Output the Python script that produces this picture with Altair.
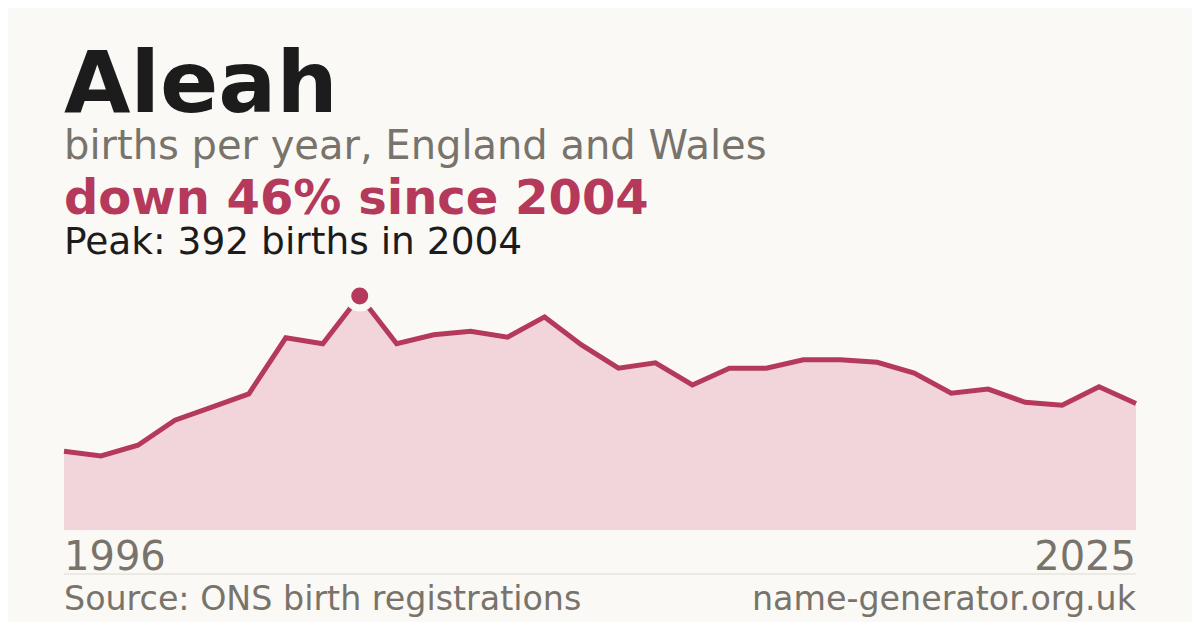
import altair as alt
import pandas as pd

# ---- data ----
years = list(range(1996, 2026))
births = [132, 124, 142, 184, 206, 228, 322, 312, 392, 312,
          327, 333, 323, 357, 310, 271, 280, 243, 271, 271,
          285, 285, 281, 263, 229, 236, 214, 209, 240, 212]
peak_year = [2004]
peak_births = [392]

name_text = ["Aleah"]
subtitle_text = ["births per year, England and Wales"]
change_text = ["down 46% since 2004"]
peak_text = ["Peak: 392 births in 2004"]
source_text = ["Source: ONS birth registrations"]
site_text = ["name-generator.org.uk"]

BG = "#faf9f5"
RED = "#b5395a"
FILL = "#f2d5da"
GRAY = "#78736b"
DARK = "#1c1c1c"
FONT = "DejaVu Sans"

W, H = 1072, 234

df = pd.DataFrame({"year": years, "births": births})
peak_df = pd.DataFrame({"year": peak_year, "births": peak_births})

xs = alt.Scale(domain=[years[0], years[-1]], nice=False, zero=False)
ys = alt.Scale(domain=[0, max(births)], nice=False, zero=True)

base = alt.Chart(df).encode(
    x=alt.X("year:Q", scale=xs, axis=None),
    y=alt.Y("births:Q", scale=ys, axis=None),
)

area = base.mark_area(color=FILL, opacity=1)
line = base.mark_line(color=RED, strokeWidth=5, strokeJoin="miter")
peak = alt.Chart(peak_df).mark_point(
    shape="circle", filled=True, fill=RED, stroke=BG, strokeWidth=7, size=576, opacity=1
).encode(
    x=alt.X("year:Q", scale=xs, axis=None),
    y=alt.Y("births:Q", scale=ys, axis=None),
)


def text_layer(values, y, size, color, weight="normal", align="left", x=0):
    return alt.Chart(pd.DataFrame({"t": values})).mark_text(
        font=FONT, fontSize=size, fontWeight=weight, color=color,
        align=align, baseline="alphabetic",
    ).encode(x=alt.value(x), y=alt.value(y), text="t:N")


first_df = pd.DataFrame({"year": [years[0]]})
last_df = pd.DataFrame({"year": [years[-1]]})
year_first = alt.Chart(first_df).mark_text(
    font=FONT, fontSize=40, color=GRAY, align="left", baseline="alphabetic"
).encode(x=alt.X("year:Q", scale=xs, axis=None), y=alt.value(274), text="year:N")
year_last = alt.Chart(last_df).mark_text(
    font=FONT, fontSize=40, color=GRAY, align="right", baseline="alphabetic"
).encode(x=alt.X("year:Q", scale=xs, axis=None), y=alt.value(274), text="year:N")

rule = alt.Chart(pd.DataFrame({"a": [0]})).mark_rule(color="#dedad2", strokeWidth=1).encode(
    x=alt.value(0), x2=alt.value(W), y=alt.value(278)
)

chart = alt.layer(
    area, line, peak,
    text_layer(name_text, -184, 86, DARK, "bold"),
    text_layer(subtitle_text, -137, 40, GRAY),
    text_layer(change_text, -82, 48, RED, "bold"),
    text_layer(peak_text, -42, 37.5, DARK),
    year_first, year_last, rule,
    text_layer(source_text, 314, 33.3, GRAY),
    text_layer(site_text, 314, 33.3, GRAY, align="right", x=W),
).properties(
    width=W, height=H,
    padding={"left": 56, "top": 288, "right": 56, "bottom": 92},
    autosize=alt.AutoSizeParams(type="none"),
    background=BG,
).configure_view(stroke=None)

chart.save("out.html", embed_options={"renderer": "svg", "actions": False})
